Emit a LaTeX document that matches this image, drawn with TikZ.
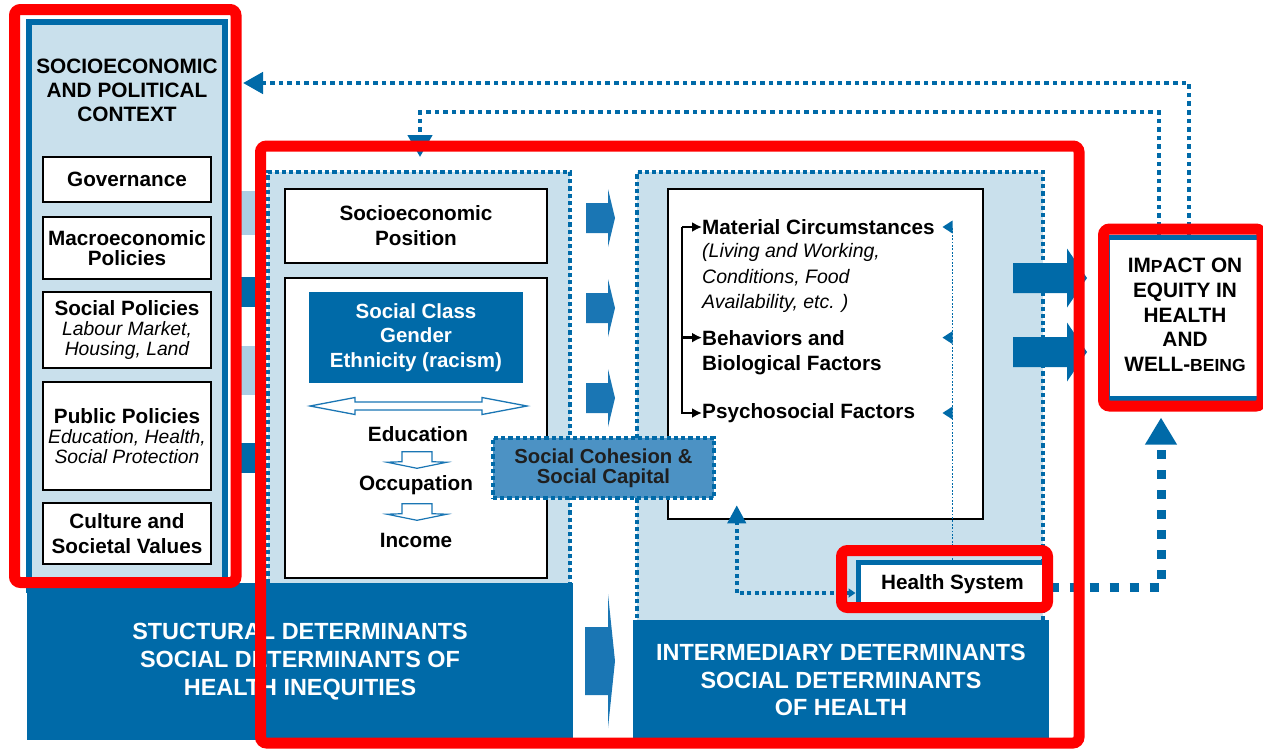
\documentclass[tikz,border=0pt]{standalone}
\usepackage{fontspec}
\setmainfont{Liberation Sans}
\usetikzlibrary{arrows.meta,calc}
\definecolor{dblue}{RGB}{0,106,168}
\definecolor{ablue}{RGB}{26,118,180}
\definecolor{lblue}{RGB}{201,224,236}
\definecolor{pblue}{RGB}{172,206,228}
\definecolor{cblue}{RGB}{76,146,196}
\definecolor{fred}{RGB}{255,0,0}
\newcommand\myfs[2]{\fontsize{#1}{#2}\selectfont}
\newcommand\itl{\mdseries\itshape\myfs{19.3}{20}}
\begin{document}
\begin{tikzpicture}[x=1pt,y=-1pt,
  wbox/.style={draw=black, line width=2.8pt, fill=white, inner sep=0pt, align=center, font=\bfseries\myfs{20.7}{20}},
  dotb/.style={draw=dblue, line width=4.6pt, dash pattern=on 4.2pt off 3pt},
  txt/.style={inner sep=0pt, font=\bfseries\myfs{20.7}{25}},
  redf/.style={draw=fred, line width=11pt, rounded corners=6pt},
  fdot/.style={draw=dblue, line width=4.6pt, dash pattern=on 4.6pt off 4pt},
  mdot/.style={draw=dblue, line width=4pt, dash pattern=on 4pt off 3.5pt},
  hdot/.style={draw=dblue, line width=9pt, dash pattern=on 9pt off 11pt},
  tdot/.style={draw=dblue, line width=1.5pt, dash pattern=on 1.7pt off 1.7pt},
  bk/.style={draw=black, line width=2.4pt},
  panel/.style={fill=dblue, inner sep=0pt, text=white, align=center, font=\bfseries\myfs{23.4}{28}},
  midarrow/.pic={\fill[ablue] (0,-15) -- (22,-15) -- (22,-29) -- (29,0) -- (22,29) -- (22,15) -- (0,15) -- cycle;},
  bigarrow/.pic={\fill[ablue] (0,-34) -- (23,-34) -- (23,-67) -- (30,0) -- (23,67) -- (23,34) -- (0,34) -- cycle;},
  rarrow/.pic={\fill[dblue] (0,-15) -- (54,-15) -- (54,-29.5) -- (74,0) -- (54,29.5) -- (54,15) -- (0,15) -- cycle;},
  downblk/.pic={\draw[ablue, line width=1.2pt, fill=white] (-15,-8.3) -- (15,-8.3) -- (15,1.7) -- (30,2.2) -- (0,8.3) -- (-30,2.2) -- (-15,1.7) -- cycle;},
]
\useasboundingbox (0,0) rectangle (1263,748);

% ---------- left context column ----------
\node[draw=dblue, line width=6pt, fill=lblue, minimum width=196pt, minimum height=568pt, inner sep=0pt] (ctx) at (127,306) {};
\node[align=center, inner sep=0pt, font=\bfseries\myfs{20.8}{24}] (ctxt) at (127,90) {SOCIOECONOMIC\\AND POLITICAL\\CONTEXT};
\node[wbox, minimum width=168pt, minimum height=45pt] (gov) at (127,179.5) {Governance};
\node[wbox, minimum width=168pt, minimum height=62pt] (mac) at (127,248) {Macroeconomic\\Policies};
\node[wbox, minimum width=168pt, minimum height=76pt] (soc) at (127,330) {Social Policies\\{\itl Labour Market,}\\{\itl Housing, Land}};
\node[wbox, minimum width=168pt, minimum height=108pt] (pub) at (127,436) {Public Policies\\{\itl Education, Health,}\\{\itl Social Protection}};
\node[wbox, minimum width=168pt, minimum height=61pt, font=\bfseries\myfs{20.7}{25}] (cul) at (127,533.5) {Culture and\\Societal Values};

% arrows from the context column (mostly hidden)
\fill[pblue] (240,191) rectangle (257,235);
\fill[dblue] (240,277) rectangle (257,307);
\fill[pblue] (240,346) rectangle (257,395);
\fill[dblue] (240,443) rectangle (257,473);

% ---------- structural area ----------
\fill[lblue] (268,172) rectangle (570,590);
\draw[dotb] (268,590) -- (268,172) -- (570,172) -- (570,590);
% ---------- intermediary area ----------
\fill[lblue] (637,172) rectangle (1043,625);
\draw[dotb] (637,625) -- (637,172) -- (1043,172) -- (1043,625);

% ---------- dark panels ----------
\node[panel, minimum width=546pt, minimum height=157pt] (struct) at (300,661.5) {STUCTURAL DETERMINANTS\\SOCIAL DETERMINANTS OF\\HEALTH INEQUITIES};
\node[panel, minimum width=416pt, minimum height=121pt, font=\bfseries\myfs{23.4}{27.5}] (inter) at (841,680) {INTERMEDIARY DETERMINANTS\\SOCIAL DETERMINANTS\\OF HEALTH};

% ---------- structural boxes ----------
\node[wbox, minimum width=262pt, minimum height=74pt, font=\bfseries\myfs{20.7}{25}] (sep) at (416,226) {Socioeconomic\\Position};
\node[wbox, minimum width=262pt, minimum height=300pt] (bigbox) at (416,428) {};
\node[fill=dblue, minimum width=214pt, minimum height=91pt, inner sep=0pt, text=white, align=center, font=\bfseries\myfs{20.5}{24.5}] (scg) at (416,337.5) {Social Class\\Gender\\Ethnicity (racism)};
\draw[ablue, line width=1.3pt, fill=white] (310,406) -- (355,397.5) -- (355,402) -- (482,402) -- (482,397.5) -- (527,406) -- (482,414.5) -- (482,410) -- (355,410) -- (355,414.5) -- cycle;
\node[txt] (edu) at (418,434) {Education};
\node[txt] (occ) at (416,485) {Occupation};
\node[txt] (inc) at (416,540) {Income};
\pic at (417,460) {downblk};
\pic at (417,512) {downblk};

% ---------- arrows between areas ----------
\pic at (586,218) {midarrow};
\pic at (586,308) {midarrow};
\pic at (586,398) {midarrow};
\pic at (585,661) {bigarrow};
\pic at (1013,278) {rarrow};
\pic at (1013,352) {rarrow};

% ---------- intermediary box ----------
\node[draw=black, line width=2.5pt, fill=white, minimum width=315pt, minimum height=330pt, inner sep=0pt] (ibox) at (825.5,354) {};
\node[txt, anchor=west] (mat) at (702,227) {Material Circumstances};
\node[inner sep=0pt, anchor=west, align=left, font=\itshape\myfs{19.5}{25.5}] (matd) at (702,278) {(Living and Working,\\Conditions, Food\\Availability, etc. )};
\node[txt, anchor=west, align=left] (beh) at (702,353) {Behaviors and\\Biological Factors};
\node[txt, anchor=west] (psy) at (702,413) {Psychosocial Factors};
\coordinate (brT) at ($(mat.west)+(-20,0)$);
\coordinate (behin) at ($(beh.north west)+(0,7)$);
\draw[bk, -{Latex[length=10pt,width=10pt]}] (brT) -- (mat.west);
\draw[bk, -{Latex[length=10pt,width=10pt]}] (brT) |- (psy.west);
\draw[bk, -{Latex[length=10pt,width=10pt]}] (brT |- behin) -- (behin);

% ---------- health system ----------
\node[draw=dblue, line width=5pt, fill=white, minimum width=189pt, minimum height=44pt, inner sep=0pt, font=\bfseries\myfs{20.7}{20}] (hs) at (952.5,584) {Health System};
\coordinate (fbT) at (hs.north |- mat.west);
\draw[tdot] (hs.north) -- (fbT);
\fill[dblue] (fbT) ++(-10,0) -- ++(10,-6.5) -- ++(0,13) -- cycle;
\fill[dblue] (hs.north |- behin) ++(-10,0) -- ++(10,-6.5) -- ++(0,13) -- cycle;
\fill[dblue] (hs.north |- psy.west) ++(-10,0) -- ++(10,-6.5) -- ++(0,13) -- cycle;
\coordinate (hsL) at ($(hs.west)+(0,9)$);
\coordinate (iboxin) at ($(ibox.south west)+(70,-15)$);
\draw[mdot, {Triangle[length=7pt,width=9pt]}-{Triangle[length=18pt,width=18pt]}] (hsL) -| (iboxin);

% ---------- social cohesion ----------
\node[fill=cblue, draw=dblue, line width=4.6pt, dash pattern=on 4.2pt off 3pt, minimum width=221pt, minimum height=60pt, inner sep=0pt, align=center, text=black!88, font=\bfseries\myfs{20.3}{20}] (coh) at (603.5,468) {Social Cohesion \&\\Social Capital};

% ---------- impact ----------
\node[draw=dblue, line width=5pt, fill=white, minimum width=152pt, minimum height=160.5pt, inner sep=0pt] (imp) at (1183,317.75) {};
\node[align=center, inner sep=0pt, font=\bfseries\myfs{20.8}{24.75}] (impt) at (1185,315) {IM{\myfs{17.5}{24.75}P}ACT ON\\EQUITY IN\\HEALTH\\AND\\WELL-{\myfs{17.5}{24.75}BEING}};

% heavy dotted health system -> impact
\coordinate (hsR) at ($(hs.east)+(0,3)$);
\coordinate (impin) at ($(imp.south)+(-22,17)$);
\draw[hdot, -{Triangle[length=27pt,width=30pt]}] (hsR) -| (impin);

% feedback lines
\coordinate (fbo) at ($(imp.north)+(6,0)$);
\coordinate (fbi) at ($(imp.north)+(-24,0)$);
\coordinate (ctxin) at (243,83);
\coordinate (fbturn) at (420,112);
\coordinate (sepin) at (420,157);
\draw[fdot, -{Triangle[length=20pt,width=21pt]}] (fbo) |- (ctxin);
\draw[fdot, -{Triangle[length=22pt,width=24pt]}] (fbi) |- (fbturn) -- (sepin);

% ---------- red frames ----------
\draw[redf] (14.5,9.5) rectangle (236,582.5);
\draw[redf] (260.5,146) rectangle (1079,743);
\draw[redf] (1103.5,229) rectangle (1262,406);
\draw[redf] (841.5,550.5) rectangle (1047.5,607.5);
\end{tikzpicture}
\end{document}
